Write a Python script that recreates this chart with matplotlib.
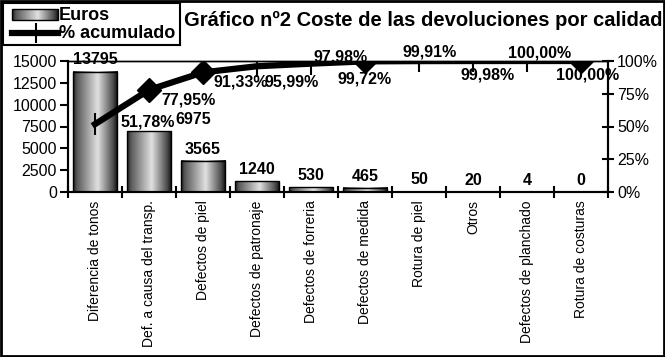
import numpy as np
import matplotlib
matplotlib.use("Agg")
import matplotlib.pyplot as plt
from matplotlib.patches import Rectangle

plt.rcParams["font.family"] = ["Liberation Sans", "DejaVu Sans"]

categories = [
    "Diferencia de tonos", "Def. a causa del transp.", "Defectos de piel",
    "Defectos de patronaje", "Defectos de forreria", "Defectos de medida",
    "Rotura de piel", "Otros", "Defectos de planchado", "Rotura de costuras",
]
euros = [13795, 6975, 3565, 1240, 530, 465, 50, 20, 4, 0]
acumulado = [51.78, 77.95, 91.33, 95.99, 97.98, 99.72, 99.91, 99.98, 100.00, 100.00]
pct_labels = ["51,78%", "77,95%", "91,33%", "95,99%", "97,98%",
              "99,72%", "99,91%", "99,98%", "100,00%", "100,00%"]

# label offsets (pixels) and marker shapes as drawn in the original
pct_offsets = [(53, 2), (40, -10), (38, -10), (35, -16), (30, 7),
               (0, -18), (11, 9), (15, -14), (13, 8), (7, -14)]
bar_label_dx = [0, 44, 0, 0, 0, 0, 0, 0, 0, 0]
markers = ["|", "D", "D", "|", "|", "D", "|", "|", "|", "D"]


def metal_gradient(n=64):
    t = np.linspace(0, 1, n)
    v = np.interp(t, [0, 0.08, 0.55, 0.9, 1.0], [0.12, 0.35, 0.88, 0.3, 0.05])
    return v.reshape(1, -1)


fig = plt.figure(figsize=(6.65, 3.57), dpi=100)
W, H = 665, 357
ax = fig.add_axes([68 / W, 1 - 192 / H, 540 / W, 131 / H])
ax2 = ax.twinx()

x = np.arange(len(categories))
bars = ax.bar(x, euros, width=0.83, facecolor="none", edgecolor="black",
              linewidth=1.0, zorder=3)
grad = metal_gradient()
for b in bars:
    x0, w, h = b.get_x(), b.get_width(), b.get_height()
    if h <= 0:
        continue
    ax.imshow(grad, extent=[x0, x0 + w, 0, h], aspect="auto", cmap="gray",
              vmin=0, vmax=1, zorder=2, interpolation="bilinear")

for xi, v, dx in zip(x, euros, bar_label_dx):
    ax.annotate(str(v), (xi, v), xytext=(dx * 0.72, 3), textcoords="offset points",
                ha="center", va="bottom", fontsize=11.5, fontweight="bold", zorder=5)

ax.set_xlim(-0.5, len(categories) - 0.5)
ax.set_ylim(0, 15000)
ax.set_yticks(np.arange(0, 15001, 2500))
ax.set_xticks(x)
ax.set_xticklabels(categories, rotation=90, fontsize=10, va="top", ha="center")
ax.set_xticks(np.arange(-0.5, len(categories), 1), minor=True)
ax.tick_params(axis="x", which="major", length=0, pad=6)
ax.tick_params(axis="x", which="minor", direction="inout", length=9, width=1.5)
ax.tick_params(axis="y", direction="out", length=6, width=1.5, labelsize=11.5, pad=2)

for a in (ax, ax2):
    for s in a.spines.values():
        s.set_linewidth(1.5)
    a.spines["top"].set_linewidth(1.0)

ax2.plot(x, acumulado, color="black", linewidth=4.5, zorder=4, solid_joinstyle="miter")
for xi, yi, m in zip(x, acumulado, markers):
    if m == "D":
        ax2.plot(xi, yi, marker="D", markersize=12, color="black", zorder=5)
    else:
        ax2.plot(xi, yi, marker="|", markersize=16, markeredgewidth=1.5,
                 color="black", zorder=5)
for xi, yi, lab, (dx, dy) in zip(x, acumulado, pct_labels, pct_offsets):
    ax2.annotate(lab, (xi, yi), xytext=(dx * 0.72, dy * 0.72),
                 textcoords="offset points", ha="center", va="center",
                 fontsize=11.5, fontweight="bold", zorder=6)
ax2.set_ylim(0, 100)
ax2.set_yticks([0, 25, 50, 75, 100])
ax2.set_yticklabels(["0%", "25%", "50%", "75%", "100%"])
ax2.tick_params(axis="y", direction="inout", length=9, width=1.5, labelsize=11.5, pad=2)

fig.text(663 / W, 1 - 20 / H, "Gráfico nº2 Coste de las devoluciones por calidad",
         ha="right", va="center", fontsize=14.5, fontweight="bold")

# legend box drawn by hand (gradient swatch + line with tick)
lg = fig.add_axes([3 / W, 1 - 45 / H, 177 / W, 42 / H])
lg.set_xticks([])
lg.set_yticks([])
for s in lg.spines.values():
    s.set_linewidth(1.5)
lg.imshow(grad, extent=[9, 55, 25, 36], aspect="auto", cmap="gray", vmin=0, vmax=1)
lg.add_patch(Rectangle((9, 25), 46, 11, facecolor="none", edgecolor="black", linewidth=1))
lg.plot([9, 55], [12, 12], color="black", linewidth=4.5)
lg.plot([33], [12], marker="|", markersize=14, markeredgewidth=1.5, color="black")
lg.text(56, 30, "Euros", fontsize=13, fontweight="bold", va="center", ha="left")
lg.text(56, 11, "% acumulado", fontsize=13, fontweight="bold", va="center", ha="left")
lg.set_xlim(0, 177)
lg.set_ylim(0, 42)

fig.patches.append(Rectangle((0.002, 0.003), 0.996, 0.994, transform=fig.transFigure,
                             fill=False, edgecolor="black", linewidth=2))

fig.savefig("out.png", dpi=100)
